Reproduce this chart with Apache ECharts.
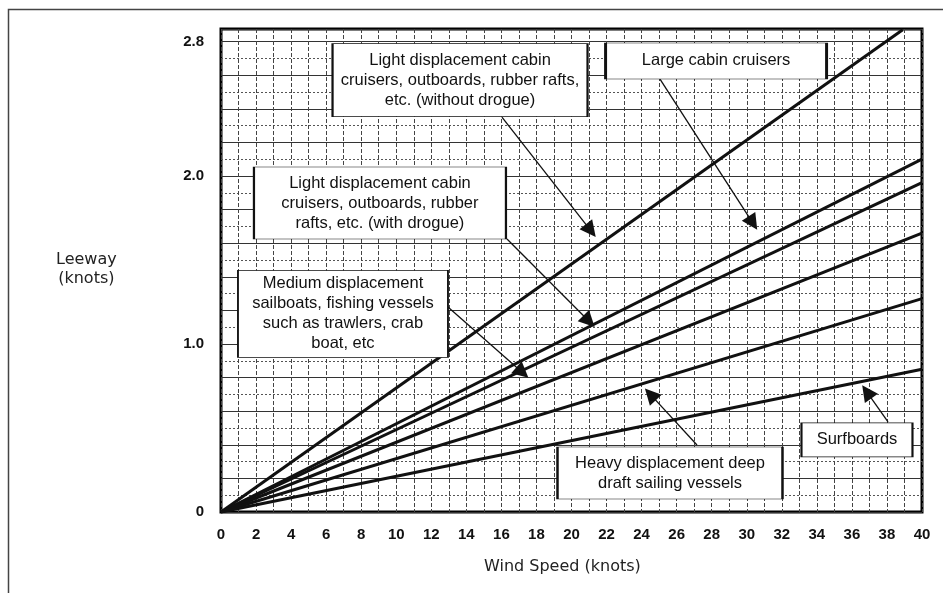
<!DOCTYPE html>
<html>
<head>
<meta charset="utf-8">
<title>Leeway vs wind speed</title>
<script src="https://cdn.jsdelivr.net/npm/echarts@6/dist/echarts.min.js"></script>
<style>
  html, body { margin: 0; padding: 0; background: #fff; }
  #chart { width: 943px; height: 593px; }
</style>
</head>
<body>
<div id="chart"></div>
<script>
// 各类船只 (从上到下的直线)
const boatTypes = [
  "Light displacement (without drogue)",
  "Large cabin cruisers",
  "Light displacement (with drogue)",
  "Medium displacement",
  "Heavy displacement",
  "Surfboards",
];
// 每条线从原点出发, 终点的风速和漂移
const lineEndWind = [38.9, 40, 40, 40, 40, 40];
const lineEndLeeway = [2.87, 2.1, 1.96, 1.66, 1.27, 0.85];
// 坐标轴刻度
const xTickLabels = [0, 2, 4, 6, 8, 10, 12, 14, 16, 18, 20, 22, 24, 26, 28, 30, 32, 34, 36, 38, 40];
const yTickLabels = [0, 1.0, 2.0, 2.8];

// 注释框文字
const noteText = [
  "Light displacement cabin\ncruisers, outboards, rubber rafts,\netc. (without drogue)",
  "Large cabin cruisers",
  "Light displacement cabin\ncruisers, outboards, rubber\nrafts, etc. (with drogue)",
  "Medium displacement\nsailboats, fishing vessels\nsuch as trawlers, crab\nboat, etc",
  "Heavy displacement deep\ndraft sailing vessels",
  "Surfboards",
];
// 注释框位置 (数据坐标) 和大小
const noteAt = [[13.64, 2.571], [28.25, 2.685], [9.07, 1.839], [6.96, 1.179], [25.62, 0.232], [36.29, 0.429]];
const noteSize = [[255, 73], [221, 36], [252, 72], [210, 87], [225, 52], [111, 34]];
// 箭头起点和终点 (数据坐标)
const arrowFrom = [[16.03, 2.351], [25.05, 2.577], [16.32, 1.625], [12.95, 1.22], [27.16, 0.399], [38.06, 0.536]];
const arrowTo = [[21.1, 1.675], [30.35, 1.72], [21.0, 1.135], [17.2, 0.83], [24.5, 0.7], [36.85, 0.715]];

const chartInstance = echarts.init(document.getElementById("chart"));

const near = (a, b) => Math.abs(a - b) < 1e-6;

const seriesArr = boatTypes.map((name, index) => {
  const s = {
    name: name,
    type: "line",
    data: [[0, 0], [lineEndWind[index], lineEndLeeway[index]]],
    showSymbol: false,
    silent: true,
    lineStyle: { color: "#111", width: 3 },
    z: 3,
  };
  if (index === 0) {
    // 箭头
    s.markLine = {
      silent: true,
      symbol: ["none", "triangle"],
      symbolSize: 16,
      label: { show: false },
      lineStyle: { color: "#111", width: 1.3, type: "solid" },
      emphasis: { disabled: true },
      data: arrowFrom.map((p, i) => [{ coord: p }, { coord: arrowTo[i] }]),
      z: 4,
    };
    // 注释框
    s.markPoint = {
      silent: true,
      z: 5,
      itemStyle: { color: "#fff", borderColor: "#111", borderWidth: 1.2 },
      label: {
        show: true,
        position: "inside",
        color: "#111",
        fontFamily: "Liberation Sans",
        fontSize: 16.5,
        lineHeight: 20,
        align: "center",
      },
      emphasis: { disabled: true },
      data: noteText.map((t, i) => ({
        coord: noteAt[i],
        symbol: "rect",
        symbolSize: noteSize[i],
        label: { formatter: t },
      })),
    };
  }
  return s;
});

const option = {
  animation: false,
  backgroundColor: "#fff",
  grid: {
    left: 221,
    top: 29,
    width: 701,
    height: 483,
    show: true,
    borderColor: "#000",
    borderWidth: 3,
    backgroundColor: "#fff",
  },
  xAxis: {
    type: "value",
    min: 0,
    max: 40,
    interval: 2,
    axisLine: { show: false },
    axisTick: { show: false },
    axisLabel: {
      margin: 15,
      color: "#111",
      fontFamily: "Liberation Sans",
      fontWeight: "bold",
      fontSize: 15,
      formatter: (v) => (xTickLabels.some((t) => near(t, v)) ? String(v) : ""),
    },
    splitLine: { show: true, lineStyle: { color: "#444", width: 1, type: [4, 2] } },
    minorTick: { show: false, splitNumber: 2 },
    minorSplitLine: { show: true, lineStyle: { color: "#444", width: 1, type: [4, 2] } },
  },
  yAxis: {
    type: "value",
    min: 0,
    max: 2.875,
    interval: 0.2,
    axisLine: { show: false },
    axisTick: { show: false },
    axisLabel: {
      margin: 17,
      color: "#111",
      fontFamily: "Liberation Sans",
      fontWeight: "bold",
      fontSize: 15,
      showMaxLabel: false,
      formatter: (v) => {
        const hit = yTickLabels.find((t) => near(t, v));
        if (hit === undefined) return "";
        return hit === 0 ? "0" : hit.toFixed(1);
      },
    },
    splitLine: { show: true, lineStyle: { color: "#333", width: 1.2, type: "solid" } },
    minorTick: { show: false, splitNumber: 2 },
    minorSplitLine: { show: true, lineStyle: { color: "#555", width: 1, type: [2, 2] } },
  },
  series: seriesArr,
  graphic: [
    {
      type: "rect",
      left: 6,
      top: 7,
      shape: { width: 1000, height: 700 },
      style: { fill: "none", stroke: "#444", lineWidth: 1.5 },
      silent: true,
      z: -10,
    },
    {
      type: "text",
      left: 56,
      top: 250,
      style: {
        text: "Leeway\n(knots)",
        fontFamily: "DejaVu Sans",
        fontSize: 16,
        lineHeight: 19,
        fill: "#222",
        textAlign: "center",
      },
      silent: true,
    },
    {
      type: "text",
      left: 484,
      top: 559,
      style: {
        text: "Wind Speed (knots)",
        fontFamily: "DejaVu Sans",
        fontSize: 16,
        fill: "#222",
      },
      silent: true,
    },
  ],
};

chartInstance.setOption(option);
window.addEventListener("resize", () => chartInstance.resize());
</script>
</body>
</html>
